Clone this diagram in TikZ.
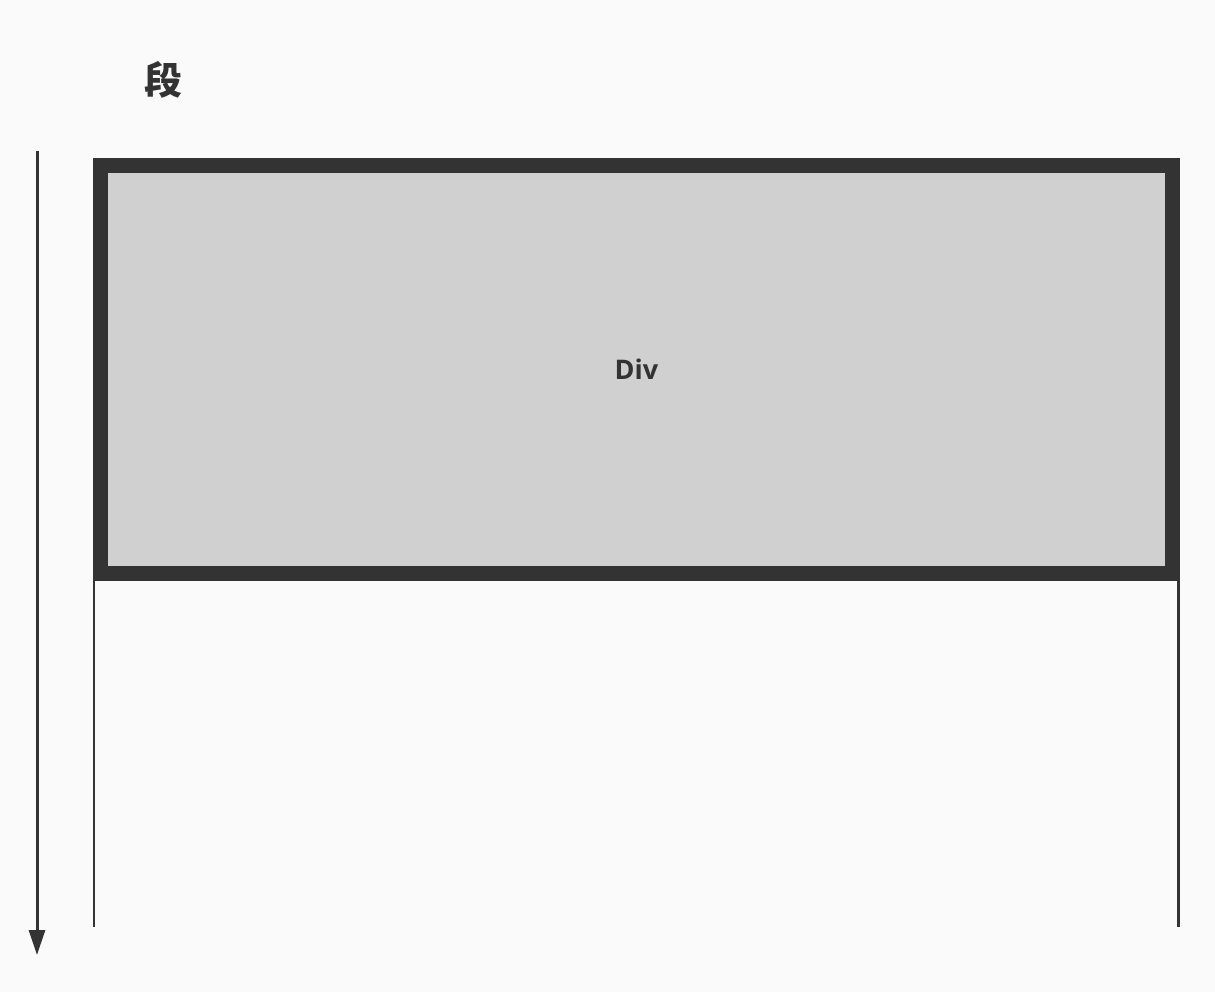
\documentclass[tikz,border=0pt]{standalone}
\usepackage{fontspec}
\setmainfont{Open Sans}
\newfontfamily\cjk{Noto Sans CJK SC}
\usetikzlibrary{arrows.meta, positioning}
\definecolor{ink}{HTML}{333333}
\definecolor{paper}{HTML}{FAFAFA}
\definecolor{divfill}{HTML}{D0D0D0}

\begin{document}
\begin{tikzpicture}[
  x=1pt, y=-1pt,
  every node/.style={text=ink},
  divbox/.style={rectangle, draw=ink, line width=15pt, fill=divfill, minimum width=1072pt, minimum height=407.5pt, inner sep=0pt, text depth=-2pt, font=\bfseries\fontsize{27}{30}\selectfont},
  guide/.style={draw=ink, line width=2.5pt},
  flow/.style={draw=ink, line width=3pt, -{Triangle[length=25pt, width=16pt]}},
]
  \fill[paper] (0,0) rectangle (1215,992);
  \useasboundingbox (0,0) rectangle (1215,992);

  % Titel
  \node[font=\cjk\bfseries\fontsize{38}{40}\selectfont] (title) at (163,80) {段};

  % Hilfslinien unter dem Kasten
  \coordinate (gl-top) at (94,177);
  \coordinate (gl-bot) at (94,927);
  \coordinate (gr-top) at (1178.5,158);
  \coordinate (gr-bot) at (1178.5,927);
  \draw[guide] (gl-top) -- (gl-bot);
  \draw[guide] (gr-top) -- (gr-bot);

  % Kasten
  \node[divbox] (div) at (636.5,369.25) {Div};

  % Richtung
  \coordinate (flow-top) at (37,151);
  \coordinate (flow-bot) at (37,955);
  \draw[flow] (flow-top) -- (flow-bot);
\end{tikzpicture}
\end{document}
